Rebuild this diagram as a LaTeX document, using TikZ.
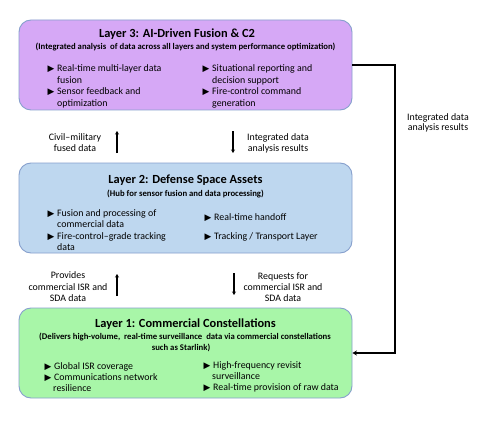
\documentclass[tikz,border=0pt]{standalone}
\usepackage{fontspec}
\setmainfont{Carlito}
\newfontfamily\symfont{DejaVu Sans}
\usetikzlibrary{arrows.meta}
\definecolor{purp}{RGB}{214,168,246}
\definecolor{bluef}{RGB}{190,215,239}
\definecolor{greenf}{RGB}{168,246,168}
\definecolor{edgec}{RGB}{135,160,205}
\newcommand\bitem[4]{%
  \node[tri] (#1t) at (#2-0.5,#3+3.5) {▶};
  \node[btx] (#1) at (#2+9,#3+3.3) {#4};}
\begin{document}
\begin{tikzpicture}[x=1pt,y=-1pt,
  layer/.style={draw=edgec, line width=0.9pt, rounded corners=12pt, inner sep=0pt, minimum width=333pt, minimum height=90pt},
  ttl/.style={font=\bfseries\fontsize{12.4}{14}\selectfont, inner sep=0pt, anchor=base},
  sub/.style={font=\bfseries\fontsize{8.7}{11}\selectfont, inner sep=0pt, anchor=base},
  btx/.style={font=\fontsize{9.9}{11}\selectfont, inner sep=0pt, anchor=base west},
  tri/.style={font=\symfont\fontsize{8.8}{9}\selectfont, inner sep=0pt, anchor=base west},
  lbl/.style={font=\fontsize{9.9}{11}\selectfont, inner sep=0pt, anchor=base},
  flow/.style={line width=1.8pt, -{Stealth[length=3.5pt,width=4pt]}},
  link/.style={line width=1.4pt, -{Stealth[length=4.5pt,width=5pt]}}]
\useasboundingbox[fill=white] (0,0) rectangle (477,428);

% boxes
\node[layer, fill=purp] (L3) at (185.5,65) {};
\node[layer, fill=bluef] (L2) at (185.5,208) {};
\node[layer, fill=greenf] (L1) at (185.5,353) {};

% Layer 3
\node[ttl] (t3) at (177,37.5) {Layer 3: AI-Driven Fusion \& C2};
\node[sub] (s3) at (185.5,50) {(Integrated analysis\ \ of data across all layers and system performance optimization)};
\bitem{a1}{48}{68.5}{Real-time multi-layer data}
\node[btx] (a1b) at (57,83.3) {fusion};
\bitem{a2}{48}{91.5}{Sensor feedback and}
\node[btx] (a2b) at (57,106.8) {optimization};
\bitem{a3}{203}{68.5}{Situational reporting and}
\node[btx] (a3b) at (212,83.3) {decision support};
\bitem{a4}{203}{91.5}{Fire-control command}
\node[btx] (a4b) at (212,106.8) {generation};

% Layer 2
\node[ttl] (t2) at (185.5,183.5) {Layer 2: Defense Space Assets};
\node[sub] (s2) at (185.5,196) {(Hub for sensor fusion and data processing)};
\bitem{b1}{48}{213}{Fusion and processing of}
\node[btx] (b1b) at (57,227.8) {commercial data};
\bitem{b2}{48}{236}{Fire-control–grade tracking}
\node[btx] (b2b) at (57,250.8) {data};
\bitem{b3}{205}{217}{Real-time handoff}
\bitem{b4}{205}{236}{Tracking / Transport Layer}

% Layer 1
\node[ttl] (t1) at (185.5,327.5) {Layer 1: Commercial Constellations};
\node[sub] (s1) at (185,339) {(Delivers high-volume,\ \ real-time surveillance\ \ data via commercial constellations};
\node[sub] (s1b) at (181,350) {such as Starlink)};
\bitem{c1}{45}{366}{Global ISR coverage}
\bitem{c2}{45}{377}{Communications network}
\node[btx] (c2b) at (53,391.3) {resilience};
\bitem{c3}{204}{365}{High-frequency revisit}
\node[btx] (c3b) at (212,379.3) {surveillance};
\bitem{c4}{204}{387}{Real-time provision of raw data}

% labels between layers
\node[lbl] (m1) at (75,140.3) {Civil–military};
\node[lbl] (m1b) at (75,151.3) {fused data};
\node[lbl] (m2) at (278,140.3) {Integrated data};
\node[lbl] (m2b) at (278,151.3) {analysis results};
\node[lbl] (m3) at (68,278.3) {Provides};
\node[lbl] (m3b) at (68,290) {commercial ISR and};
\node[lbl] (m3c) at (68,301.3) {SDA data};
\node[lbl] (m4) at (283,279.3) {Requests for};
\node[lbl] (m4b) at (283,290.3) {commercial ISR and};
\node[lbl] (m4c) at (283,301.3) {SDA data};
\node[lbl] (m5) at (438,120.3) {Integrated data};
\node[lbl] (m5b) at (438,131) {analysis results};

% short vertical arrows
\coordinate (u1s) at (117,153); \coordinate (u1e) at (117,131);
\coordinate (d1s) at (233,131); \coordinate (d1e) at (233,153);
\coordinate (u2s) at (117,296); \coordinate (u2e) at (117,274);
\coordinate (d2s) at (234,273); \coordinate (d2e) at (234,295);
\draw[flow] (u1s) -- (u1e);
\draw[flow] (d1s) -- (d1e);
\draw[flow] (u2s) -- (u2e);
\draw[flow] (d2s) -- (d2e);

% feedback connector
\coordinate (rx) at (395,0);
\draw[link] (L3.east) -- (L3.east -| rx) |- (L1.east);
\end{tikzpicture}
\end{document}
